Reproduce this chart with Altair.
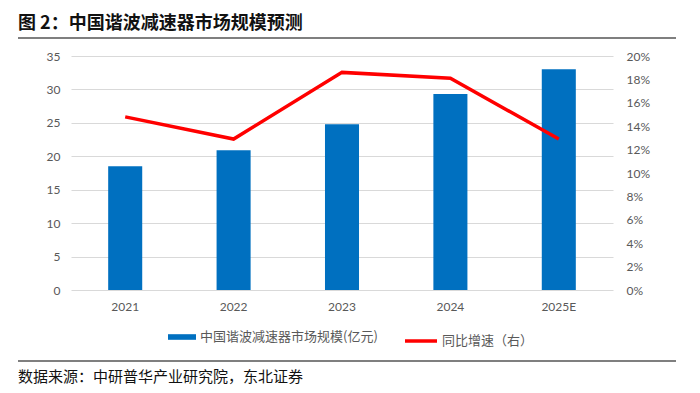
import altair as alt
import pandas as pd

# ---- data ----
years = ["2021", "2022", "2023", "2024", "2025E"]
market_size = [18.5, 20.9, 24.8, 29.3, 33.0]          # 亿元
yoy_growth = [0.148, 0.129, 0.186, 0.181, 0.129]      # 同比增速
bar_name = "中国谐波减速器市场规模(亿元)"
line_name = "同比增速（右）"
title_text = "图 2：中国谐波减速器市场规模预测"
source_text = "数据来源：中研普华产业研究院，东北证券"
left_ticks = [0, 5, 10, 15, 20, 25, 30, 35]
right_ticks = [0, 0.02, 0.04, 0.06, 0.08, 0.10, 0.12, 0.14, 0.16, 0.18, 0.20]

df = pd.DataFrame({
    "year": years,
    "size": market_size,
    "growth": yoy_growth,
    "bar_s": [bar_name] * len(years),
    "line_s": [line_name] * len(years),
})

LAB = "#595959"
NUMFONT = "Lato"
CJK = "Noto Sans CJK SC"

base = alt.Chart(df)

x_enc = alt.X(
    "year:N", sort=years, title=None,
    scale=alt.Scale(paddingInner=0.686, paddingOuter=0.343),
    axis=alt.Axis(labelAngle=0, domain=False, ticks=False, labelPadding=11,
                  labelFont=NUMFONT, labelFontSize=12, labelColor=LAB),
)

bars = base.mark_bar().encode(
    x=x_enc,
    y=alt.Y("size:Q", title=None,
            scale=alt.Scale(domain=[0, 35], nice=False),
            axis=alt.Axis(orient="left", values=left_ticks, grid=True,
                          gridColor="#d9d9d9", gridWidth=1, domain=False,
                          ticks=False, labelPadding=11, labelFont=NUMFONT,
                          labelFontSize=12, labelColor=LAB)),
    color=alt.Color("bar_s:N", scale=alt.Scale(domain=[bar_name], range=["#0070C0"]),
                    legend=alt.Legend(orient="none", legendX=97, legendY=267,
                                      title=None, padding=0, labelLimit=0,
                                      symbolType="M-1,-0.2H1V0.2H-1Z",
                                      symbolSize=784, symbolStrokeWidth=0,
                                      labelFont=CJK, labelFontSize=13,
                                      labelColor=LAB, labelOffset=4)),
)

line = base.mark_line(strokeWidth=3.5).encode(
    x=x_enc,
    y=alt.Y("growth:Q", title=None,
            scale=alt.Scale(domain=[0, 0.2], nice=False),
            axis=alt.Axis(orient="right", values=right_ticks, format=".0%",
                          grid=False, domain=False, ticks=False,
                          labelPadding=13, labelFont=NUMFONT, labelFontSize=12,
                          labelColor=LAB)),
    color=alt.Color("line_s:N", scale=alt.Scale(domain=[line_name], range=["#FF0000"]),
                    legend=alt.Legend(orient="none", legendX=332, legendY=267,
                                      title=None, padding=0, labelLimit=0,
                                      symbolType="stroke", symbolSize=1024,
                                      symbolStrokeWidth=3.5,
                                      labelFont=CJK, labelFontSize=13,
                                      labelColor=LAB, labelOffset=3)),
)

deco_df = pd.DataFrame({"t": [title_text], "s": [source_text]})
deco = alt.Chart(deco_df)
title = deco.mark_text(align="left", baseline="middle", font=CJK,
                       fontWeight="bold", fontSize=18, color="#111111").encode(
    text="t:N", x=alt.value(-53), y=alt.value(-32))
source = deco.mark_text(align="left", baseline="middle", font=CJK,
                        fontSize=15, color="#111111").encode(
    text="s:N", x=alt.value(-53), y=alt.value(321))
top_rule = deco.mark_rule(color="#7f7f7f", strokeWidth=2).encode(
    x=alt.value(-53), x2=alt.value(605), y=alt.value(-18))
bottom_rule = deco.mark_rule(color="#7f7f7f", strokeWidth=2).encode(
    x=alt.value(-53), x2=alt.value(605), y=alt.value(305))

chart = alt.layer(bars, line, title, source, top_rule, bottom_rule).resolve_scale(
    y="independent", color="independent"
).properties(
    width=542, height=234,
    padding={"left": 63, "top": 48, "right": 79, "bottom": 95},
    autosize="none",
    background="white",
).configure_view(strokeWidth=0)

chart.save("out.html", embed_options={"renderer": "svg", "actions": False})
